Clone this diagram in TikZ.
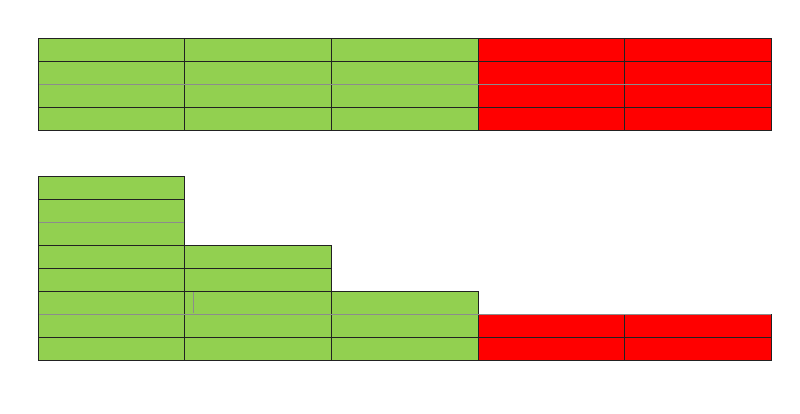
\documentclass[tikz,border=0pt]{standalone}
\definecolor{cgreen}{HTML}{92D050}
\definecolor{cred}{HTML}{FF0000}
\definecolor{cline}{HTML}{222222}
\definecolor{cgray}{HTML}{8C8C8C}
\tikzset{
  cellg/.style={fill=cgreen,draw=cline,line width=1pt},
  cellr/.style={fill=cred,draw=cline,line width=1pt},
  grayline/.style={draw=cgray,line width=1.2pt},
}
\begin{document}
\begin{tikzpicture}[x=1pt,y=-1pt]
\useasboundingbox (0,0) rectangle (800,413);
\def\cw{146.6}
\def\rh{23}
% top grid
\foreach \i in {0,1,2,3,4}{
  \foreach \j in {0,1,2,3}{
    \pgfmathsetmacro\xa{38.3+\cw*\i}
    \pgfmathsetmacro\ya{38.3+\rh*\j}
    \ifnum\i<3
      \draw[cellg] (\xa,\ya) rectangle ++(\cw,\rh);
    \else
      \draw[cellr] (\xa,\ya) rectangle ++(\cw,\rh);
    \fi
  }
}
\draw[grayline] (38.8,84.3) -- (770.8,84.3);
% bottom staircase
\foreach \j in {0,...,7}{
  \pgfmathsetmacro\ya{176.3+\rh*\j}
  \draw[cellg] (38.3,\ya) rectangle ++(\cw,\rh);
}
\foreach \j in {3,...,7}{
  \pgfmathsetmacro\ya{176.3+\rh*\j}
  \draw[cellg] (184.9,\ya) rectangle ++(\cw,\rh);
}
\foreach \j in {5,6,7}{
  \pgfmathsetmacro\ya{176.3+\rh*\j}
  \draw[cellg] (331.5,\ya) rectangle ++(\cw,\rh);
}
\foreach \i in {3,4}{
  \foreach \j in {6,7}{
    \pgfmathsetmacro\xa{38.3+\cw*\i}
    \pgfmathsetmacro\ya{176.3+\rh*\j}
    \draw[cellr] (\xa,\ya) rectangle ++(\cw,\rh);
  }
}
\draw[grayline] (38.8,222.3) -- (184.4,222.3);
\draw[grayline] (38.8,314.3) -- (771.3,314.3);
\draw[draw=cgray,line width=1pt] (193.7,292) -- (193.7,313);
\end{tikzpicture}
\end{document}
